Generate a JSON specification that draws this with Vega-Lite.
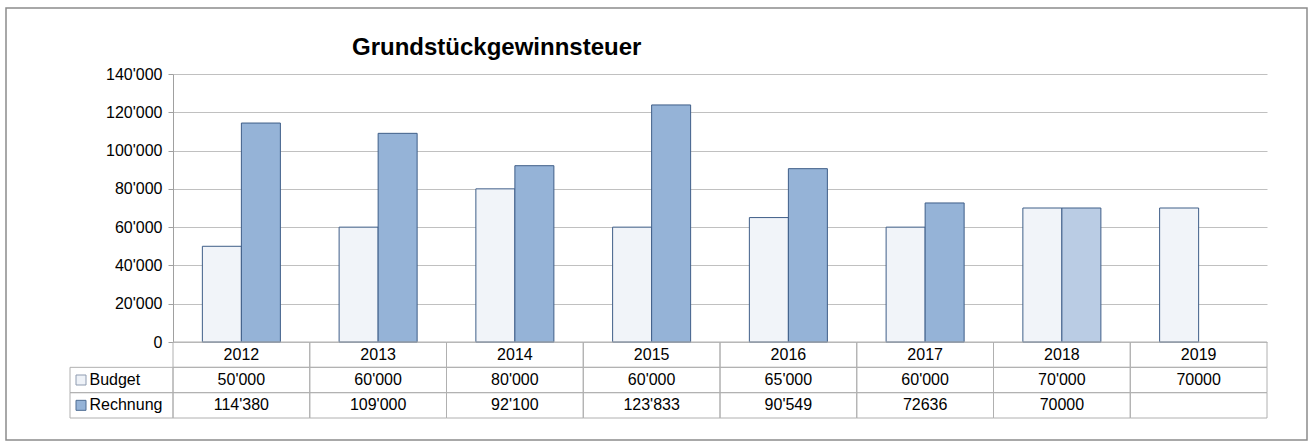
{
  "$schema": "https://vega.github.io/schema/vega-lite/v6.json",
  "width": 1301,
  "height": 432,
  "autosize": {"type": "none"},
  "padding": {"left": 6, "top": 8, "right": 1, "bottom": 8},
  "background": "white",
  "title": {
    "text": "Grundstückgewinnsteuer",
    "anchor": "start",
    "frame": "group",
    "font": "Liberation Sans",
    "fontSize": 24,
    "fontWeight": "bold",
    "color": "#000000",
    "baseline": "alphabetic",
    "offset": 0,
    "dx": 346,
    "dy": 71
  },
  "config": {
    "view": {"stroke": "#8C8C8C", "strokeWidth": 1.5},
    "font": "Liberation Sans"
  },
  "data": {
    "values": [
      {"year": "2012", "series": "Budget", "value": 50000, "label": "50'000"},
      {"year": "2012", "series": "Rechnung", "value": 114380, "label": "114'380"},
      {"year": "2013", "series": "Budget", "value": 60000, "label": "60'000"},
      {"year": "2013", "series": "Rechnung", "value": 109000, "label": "109'000"},
      {"year": "2014", "series": "Budget", "value": 80000, "label": "80'000"},
      {"year": "2014", "series": "Rechnung", "value": 92100, "label": "92'100"},
      {"year": "2015", "series": "Budget", "value": 60000, "label": "60'000"},
      {"year": "2015", "series": "Rechnung", "value": 123833, "label": "123'833"},
      {"year": "2016", "series": "Budget", "value": 65000, "label": "65'000"},
      {"year": "2016", "series": "Rechnung", "value": 90549, "label": "90'549"},
      {"year": "2017", "series": "Budget", "value": 60000, "label": "60'000"},
      {"year": "2017", "series": "Rechnung", "value": 72636, "label": "72636"},
      {"year": "2018", "series": "Budget", "value": 70000, "label": "70'000"},
      {"year": "2018", "series": "Rechnung", "value": 70000, "label": "70000"},
      {"year": "2019", "series": "Budget", "value": 70000, "label": "70000"},
      {"year": "2019", "series": "Rechnung", "value": null, "label": ""}
    ]
  },
  "layer": [
    {
      "mark": {"type": "bar", "stroke": "#3F5E88", "strokeWidth": 1},
      "encoding": {
        "x": {"field": "year", "type": "ordinal", "scale": {"type": "band", "domain": ["2012","2013","2014","2015","2016","2017","2018","2019"], "range": [167, 1261], "paddingInner": 0, "paddingOuter": 0}, "axis": null},
        "xOffset": {"field": "series", "type": "nominal", "scale": {"domain": ["Budget", "Rechnung"], "paddingInner": 0, "paddingOuter": 0.753}},
        "y": {
          "field": "value", "type": "quantitative",
          "scale": {"domain": [0, 140000], "range": [334, 66], "nice": false},
          "axis": {
            "orient": "left", "offset": -167, "title": null,
            "values": [0, 20000, 40000, 60000, 80000, 100000, 120000, 140000],
            "labelExpr": "replace(format(datum.value, ','), ',', \"'\")",
            "grid": true, "gridColor": "#C0C0C0", "gridWidth": 1,
            "domainColor": "#A0A0A0", "tickColor": "#A0A0A0", "tickSize": 5,
            "labelPadding": 6, "labelFont": "Liberation Sans", "labelFontSize": 16, "labelColor": "#000000"
          }
        },
        "fill": {
          "condition": {"test": "datum.year === '2018' && datum.series === 'Rechnung'", "value": "#BACCE4"},
          "field": "series", "type": "nominal",
          "scale": {"domain": ["Budget", "Rechnung"], "range": ["#F1F4F9", "#95B3D7"]},
          "legend": null
        }
      }
    },
    {
      "mark": {"type": "rect", "fill": "white", "fillOpacity": 0, "stroke": "#B0B0B0", "strokeWidth": 1},
      "encoding": {
        "x": {"field": "year", "type": "ordinal", "scale": {"type": "band", "domain": ["2012","2013","2014","2015","2016","2017","2018","2019"], "range": [167, 1261], "paddingInner": 0, "paddingOuter": 0}, "axis": null},
        "y": {"field": "series", "type": "nominal", "scale": {"type": "band", "domain": ["year", "Budget", "Rechnung"], "range": [334, 410], "paddingInner": 0, "paddingOuter": 0}, "axis": null}
      }
    },
    {
      "transform": [{"filter": "datum.series === 'Budget'"}],
      "mark": {"type": "rect", "fill": "white", "fillOpacity": 0, "stroke": "#B0B0B0", "strokeWidth": 1},
      "encoding": {
        "x": {"field": "year", "type": "ordinal", "scale": {"type": "band", "domain": ["2012","2013","2014","2015","2016","2017","2018","2019"], "range": [167, 1261], "paddingInner": 0, "paddingOuter": 0}, "axis": null},
        "y": {"datum": "year", "type": "nominal", "scale": {"type": "band", "domain": ["year", "Budget", "Rechnung"], "range": [334, 410], "paddingInner": 0, "paddingOuter": 0}, "axis": null}
      }
    },
    {
      "mark": {"type": "text", "font": "Liberation Sans", "fontSize": 16, "color": "#000000", "baseline": "middle", "align": "center"},
      "encoding": {
        "x": {"field": "year", "type": "ordinal", "scale": {"type": "band", "domain": ["2012","2013","2014","2015","2016","2017","2018","2019"], "range": [167, 1261], "paddingInner": 0, "paddingOuter": 0}, "axis": null},
        "y": {"field": "series", "type": "nominal", "scale": {"type": "band", "domain": ["year", "Budget", "Rechnung"], "range": [334, 410], "paddingInner": 0, "paddingOuter": 0}, "axis": null},
        "text": {"field": "label"}
      }
    },
    {
      "transform": [{"filter": "datum.series === 'Budget'"}],
      "mark": {"type": "text", "font": "Liberation Sans", "fontSize": 16, "color": "#000000", "baseline": "middle", "align": "center"},
      "encoding": {
        "x": {"field": "year", "type": "ordinal", "scale": {"type": "band", "domain": ["2012","2013","2014","2015","2016","2017","2018","2019"], "range": [167, 1261], "paddingInner": 0, "paddingOuter": 0}, "axis": null},
        "y": {"datum": "year", "type": "nominal", "scale": {"type": "band", "domain": ["year", "Budget", "Rechnung"], "range": [334, 410], "paddingInner": 0, "paddingOuter": 0}, "axis": null},
        "text": {"field": "year"}
      }
    },
    {
      "transform": [{"filter": "datum.year === '2012'"}],
      "mark": {"type": "rect", "fill": "white", "fillOpacity": 0, "stroke": "#B0B0B0", "strokeWidth": 1},
      "encoding": {
        "x": {"datum": "lbl", "type": "nominal", "scale": {"type": "band", "domain": ["lbl"], "range": [64, 167], "paddingInner": 0, "paddingOuter": 0}, "axis": null},
        "y": {"field": "series", "type": "nominal", "scale": {"type": "band", "domain": ["year", "Budget", "Rechnung"], "range": [334, 410], "paddingInner": 0, "paddingOuter": 0}, "axis": null}
      }
    },
    {
      "transform": [{"filter": "datum.year === '2012'"}],
      "mark": {"type": "point", "shape": "square", "size": 100, "filled": true, "strokeWidth": 1, "opacity": 1},
      "encoding": {
        "x": {"datum": "sym", "type": "nominal", "scale": {"type": "point", "domain": ["sym", "txt"], "range": [75, 83.5], "padding": 0}, "axis": null},
        "y": {"field": "series", "type": "nominal", "scale": {"type": "band", "domain": ["year", "Budget", "Rechnung"], "range": [334, 410], "paddingInner": 0, "paddingOuter": 0}, "axis": null},
        "fill": {"field": "series", "type": "nominal", "scale": {"domain": ["Budget", "Rechnung"], "range": ["#EEF2F8", "#95B3D7"]}, "legend": null},
        "stroke": {"field": "series", "type": "nominal", "scale": {"domain": ["Budget", "Rechnung"], "range": ["#8E9BB0", "#4F6D93"]}, "legend": null}
      }
    },
    {
      "transform": [{"filter": "datum.year === '2012'"}],
      "mark": {"type": "text", "font": "Liberation Sans", "fontSize": 16, "color": "#000000", "baseline": "middle", "align": "left"},
      "encoding": {
        "x": {"datum": "txt", "type": "nominal", "scale": {"type": "point", "domain": ["sym", "txt"], "range": [75, 83.5], "padding": 0}, "axis": null},
        "y": {"field": "series", "type": "nominal", "scale": {"type": "band", "domain": ["year", "Budget", "Rechnung"], "range": [334, 410], "paddingInner": 0, "paddingOuter": 0}, "axis": null},
        "text": {"field": "series"}
      }
    }
  ],
  "resolve": {"scale": {"x": "independent", "y": "independent", "fill": "independent", "stroke": "independent"}}
}
